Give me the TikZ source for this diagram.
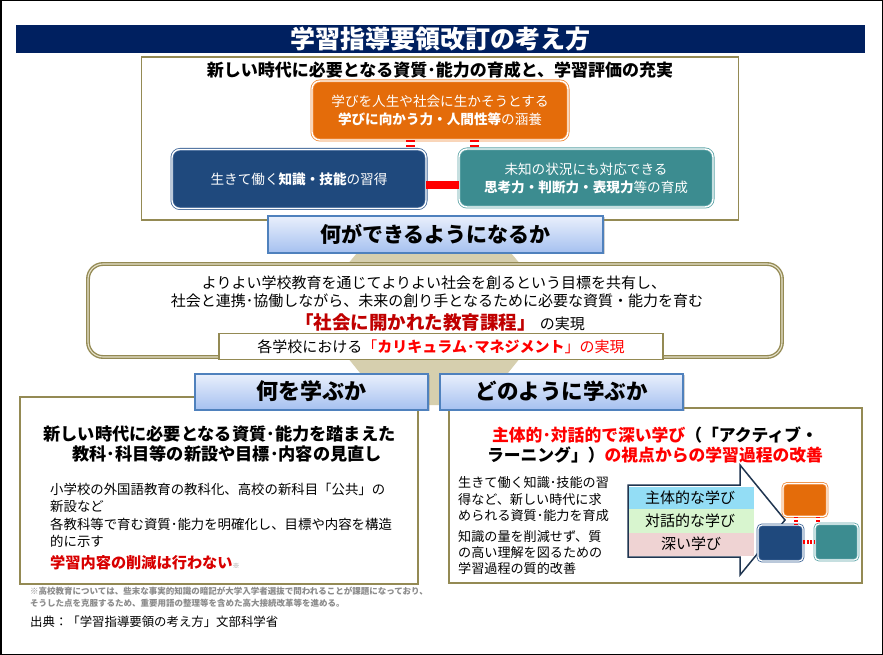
\documentclass[tikz,border=0pt]{standalone}
\usepackage{fontspec}
\setmainfont{Noto Sans CJK JP}
\usetikzlibrary{calc,shadows}
\definecolor{navy}{HTML}{002060}
\definecolor{olive}{HTML}{948A54}
\definecolor{olivelight}{HTML}{E6E2CC}
\definecolor{orng}{HTML}{E46C0A}
\definecolor{orngl}{HTML}{F08A3A}
\definecolor{dblue}{HTML}{1F497D}
\definecolor{dbluel}{HTML}{3E6597}
\definecolor{teal2}{HTML}{3C8C90}
\definecolor{teall}{HTML}{5EA5A8}
\definecolor{hblue}{HTML}{4F81BD}
\definecolor{htop}{HTML}{EAF0FC}
\definecolor{hbot}{HTML}{A6C1F0}
\definecolor{beige}{HTML}{D6CFAE}
\definecolor{dred}{HTML}{C00000}
\definecolor{bred}{HTML}{FF0000}
\definecolor{lred}{HTML}{D80000}
\definecolor{cyanband}{HTML}{93DDF5}
\definecolor{greenband}{HTML}{D8F5CF}
\definecolor{pinkband}{HTML}{EFD3D3}
\definecolor{arrowline}{HTML}{1F3550}
\definecolor{notegray}{HTML}{8C8C8C}
\newcommand\fsz[2]{\fontsize{#1}{#2}\selectfont}
\tikzset{
  titlebar/.style={fill=navy, text=white, inner sep=0pt, font=\fsz{25}{28}\bfseries},
  panel/.style={draw=olive, line width=1.6pt, fill=white, inner sep=0pt},
  cbox/.style={rounded corners=8pt, line width=0.8pt, double=white, double distance=1.4pt, inner sep=0pt, text=white, align=center, font=\fsz{13.6}{18}},
  sbox/.style={rounded corners=4pt, line width=0.8pt, double=white, double distance=1.2pt, inner sep=0pt},
  headbox/.style={draw=hblue, line width=2pt, top color=htop, bottom color=hbot, inner sep=0pt,
     drop shadow={shadow xshift=1.5pt, shadow yshift=-1.8pt, opacity=0.35}},
  txt/.style={inner sep=0pt},
  redbar/.style={draw=bred, line width=8pt},
  reddash/.style={draw=bred, line width=9pt, dash pattern=on 2pt off 3pt},
  sreddash/.style={draw=bred, line width=4pt, dash pattern=on 1.5pt off 2pt},
}
\begin{document}
\begin{tikzpicture}[x=1pt,y=-1pt]
\useasboundingbox (0,0) rectangle (883,655);
\fill[white] (0,0) rectangle (883,655);
\draw[black, line width=1.5pt] (0.75,0.75) rectangle (882.25,654.25);

% title
\node[titlebar, minimum width=849pt, minimum height=28pt] (title) at (440,39) {学習指導要領改訂の考え方};

% beige hexagon background
\fill[beige] (368,240) -- (500,240) -- (559,310) -- (482,405) -- (386,405) -- (309,310) -- cycle;

% top panel
\node[panel, minimum width=597pt, minimum height=163pt] (top) at (440,138.5) {};
\node[txt, font=\fsz{17}{20}\bfseries] (topHead) at (440,70) {新しい時代に必要となる資質･能力の育成と、学習評価の充実};
\node[cbox, fill=orng, draw=orngl, minimum width=256pt, minimum height=59pt] (orange) at (440,110.5) {学びを人生や社会に生かそうとする\\\textbf{学びに向かう力・人間性等}の涵養};
\node[cbox, fill=dblue, draw=dbluel, minimum width=254pt, minimum height=59pt] (blue) at (299,179) {生きて働く\textbf{知識・技能}の習得};
\node[cbox, fill=teal2, draw=teall, minimum width=254pt, minimum height=58pt] (teal) at (586,178) {未知の状況にも対応できる\\\textbf{思考力・判断力・表現力}等の育成};
\coordinate (barL) at ($(blue.east)+(0,6)$);
\draw[redbar] (barL) -- (barL -| teal.west);
\coordinate (d1) at ($(orange.south west)!0.387!(orange.south east)$);
\coordinate (d2) at ($(orange.south west)!0.633!(orange.south east)$);
\draw[reddash] (d1) -- (d1 |- blue.north);
\draw[reddash] (d2) -- (d2 |- teal.north);

% what can be done
\node[headbox, minimum width=335pt, minimum height=37pt, font=\fsz{21}{24}\bfseries] (can) at (435.5,234) {何ができるようになるか};

% middle box
\node[draw=olive, line width=1.4pt, double=olivelight, double distance=1.1pt, fill=white, rounded corners=15pt, minimum width=694pt, minimum height=93pt, inner sep=0pt] (mid) at (435,310.5) {};
\node[txt, font=\fsz{15}{18}] (mid1) at (434,283) {よりよい学校教育を通じてよりよい社会を創るという目標を共有し、};
\node[txt, font=\fsz{15}{18}] (mid2) at (437,300.5) {社会と連携･協働しながら、未来の創り手となるために必要な資質・能力を育む};
\node[txt, font=\fsz{15}{18}] (mid3) at (440,322.5) {{\color{dred}\bfseries\fsz{18.5}{20}「社会に開かれた教育課程」}\hspace{4pt}の実現};
\node[draw=olive, line width=1.2pt, fill=white, minimum width=444pt, minimum height=26pt, inner sep=0pt] (cm) at (441,346.5) {};
\node[txt, font=\fsz{15}{18}] (cmtext) at (cm.center) {各学校における{\color{bred}「\textbf{カリキュラム･マネジメント}」の実現}};

% bottom panels
\node[panel, minimum width=398pt, minimum height=187pt] (left) at (219,490.5) {};
\node[panel, minimum width=413pt, minimum height=175pt] (right) at (655.5,495.5) {};
\node[headbox, minimum width=233pt, minimum height=36pt, font=\fsz{22}{24}\bfseries] (what) at (311.5,391.5) {何を学ぶか};
\node[headbox, minimum width=243pt, minimum height=36pt, font=\fsz{21.5}{24}\bfseries] (how) at (561.5,391.5) {どのように学ぶか};

% left panel content
\node[txt, font=\fsz{17.2}{20}\bfseries] (lh1) at (219.5,433.5) {新しい時代に必要となる資質･能力を踏まえた};
\node[txt, font=\fsz{17.2}{20}\bfseries] (lh2) at (227,454) {教科･科目等の新設や目標･内容の見直し};
\node[txt, anchor=west, align=left, font=\fsz{13.4}{17}] (lp1) at (50,497.5) {小学校の外国語教育の教科化、高校の新科目「公共」の\\新設など};
\node[txt, anchor=west, align=left, font=\fsz{13.4}{16.5}] (lp2) at (50,533) {各教科等で育む資質･能力を明確化し、目標や内容を構造\\的に示す};
\node[txt, anchor=west, font=\fsz{15.2}{18}] (lp3) at (50,563) {{\color{lred}\bfseries 学習内容の削減は行わない}{\color{notegray}\fsz{7}{8}※}};

% right panel content
\node[txt, align=center, font=\fsz{16.8}{20.5}\bfseries] (rh) at (655,445) {{\color{bred}主体的･対話的で深い学び}（「アクティブ・\\ラーニング」）{\color{bred}の視点からの学習過程の改善}};
\node[txt, anchor=west, align=left, font=\fsz{13.1}{16.5}] (rp1) at (458,499.5) {生きて働く知識･技能の習\\得など、新しい時代に求\\められる資質･能力を育成};
\node[txt, anchor=west, align=left, font=\fsz{13.1}{16}] (rp2) at (458,553) {知識の量を削減せず、質\\の高い理解を図るための\\学習過程の質的改善};

% callout arrow
\coordinate (a1) at (628,485);
\coordinate (a2) at (740,485);
\coordinate (a3) at (740,465);
\coordinate (tip) at (785,520);
\coordinate (a5) at (740,575);
\coordinate (a6) at (740,557);
\coordinate (a7) at (628,557);
\fill[white] (a1) -- (a2) -- (a3) -- (tip) -- (a5) -- (a6) -- (a7) -- cycle;
\fill[cyanband] (629,486.5) rectangle (754,509);
\fill[greenband] (629,509) rectangle (754,532.5);
\fill[pinkband] (629,532.5) rectangle (754,556);
\draw[arrowline, line width=1.5pt, line join=miter] (a1) -- (a2) -- (a3) -- (tip) -- (a5) -- (a6) -- (a7) -- cycle;
\node[txt, font=\fsz{15}{17}] (b1) at (690,497.5) {主体的な学び};
\node[txt, font=\fsz{15}{17}] (b2) at (690,520.5) {対話的な学び};
\node[txt, font=\fsz{15}{17}] (b3) at (691,544) {深い学び};

% small boxes
\node[sbox, fill=orng, draw=orngl, minimum width=44pt, minimum height=33pt] (so) at (805,500) {};
\node[sbox, fill=dblue, draw=dbluel, minimum width=45pt, minimum height=36pt] (sb) at (780.5,543) {};
\node[sbox, fill=teal2, draw=teall, minimum width=43pt, minimum height=36pt] (st) at (836.5,542) {};
\coordinate (s1) at ($(so.south west)!0.3!(so.south east)$);
\coordinate (s2) at ($(so.south west)!0.8!(so.south east)$);
\draw[sreddash] (s1) -- (s1 |- sb.north);
\draw[sreddash] (s2) -- (s2 |- st.north);
\coordinate (s3) at ($(sb.east)+(0,-1)$);
\draw[draw=bred, line width=4pt, dash pattern=on 2pt off 1.5pt] (s3) -- (s3 -| st.west);

% notes
\node[txt, anchor=west, text=notegray, font=\fsz{8.5}{10}\bfseries] (n1) at (30,591) {※高校教育については、些末な事実的知識の暗記が大学入学者選抜で問われることが課題になっており、};
\node[txt, anchor=west, text=notegray, font=\fsz{8.5}{10}\bfseries] (n2) at (30,603) {そうした点を克服するため、重要用語の整理等を含めた高大接続改革等を進める。};
\node[txt, anchor=west, font=\fsz{12.4}{14}] (src) at (30,622) {出典：「学習指導要領の考え方」文部科学省};
\end{tikzpicture}
\end{document}
